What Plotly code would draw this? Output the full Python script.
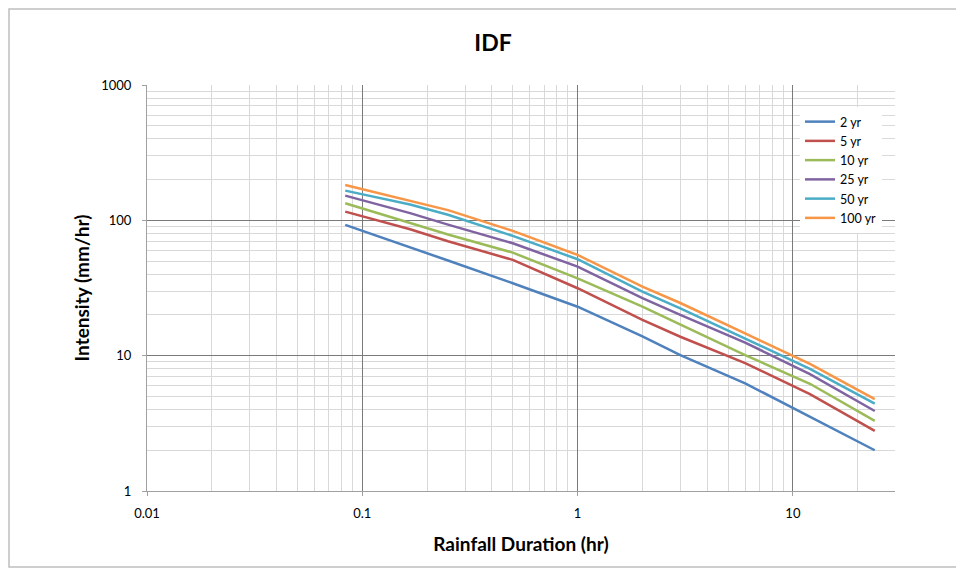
import math
import plotly.graph_objects as go

durations = [0.0833, 0.1667, 0.25, 0.5, 1, 2, 3, 6, 12, 24]
series_names = ["2 yr", "5 yr", "10 yr", "25 yr", "50 yr", "100 yr"]
i_2yr = [92.5, 63.5, 50.5, 34.3, 23.0, 13.9, 10.1, 6.25, 3.55, 2.0]
i_5yr = [115.9, 86.0, 70.0, 51.0, 31.5, 18.4, 13.8, 8.8, 5.2, 2.78]
i_10yr = [133.7, 95.0, 78.5, 57.7, 37.3, 23.0, 16.9, 10.1, 6.2, 3.3]
i_25yr = [152.3, 113.0, 93.0, 67.7, 45.5, 26.6, 20.0, 12.5, 7.3, 3.9]
i_50yr = [165.7, 131.0, 110.0, 76.7, 51.6, 29.7, 22.4, 13.4, 8.0, 4.42]
i_100yr = [182.6, 140.0, 119.0, 83.5, 55.5, 32.4, 24.5, 14.6, 8.7, 4.77]
colors = ["#4F81BD", "#C0504D", "#9BBB59", "#8064A2", "#4BACC6", "#F79646"]

x_ticks = [0.01, 0.1, 1, 10]
x_ticktext = ["0.01", "0.1", "1", "10"]
y_ticks = [1, 10, 100, 1000]
y_ticktext = ["1", "10", "100", "1000"]

FONT = "Lato"
fig = go.Figure()
for name, vals, c in zip(series_names, [i_2yr, i_5yr, i_10yr, i_25yr, i_50yr, i_100yr], colors):
    fig.add_trace(go.Scatter(x=durations, y=vals, mode="lines", name=name,
                             line=dict(color=c, width=2.5)))

OFF = 8  # page body margin
W, H = 964 - OFF, 571 - OFF
L, T = 147 - OFF, 85 - OFF
pw, ph = 895 - 147, 491 - 85
R = W - L - pw
B = H - T - ph

def sx(px):  # screen px -> paper x
    return (px - OFF - L) / pw

def sy(py):  # screen px -> paper y
    return (T + ph - (py - OFF)) / ph

fig.update_layout(
    width=W, height=H,
    margin=dict(l=L, r=R, t=T, b=B),
    paper_bgcolor="white", plot_bgcolor="white",
    font=dict(family=FONT, color="#000000"),
    title=dict(text="<b>IDF</b>", x=(493 - OFF) / W, xanchor="center",
               y=1 - (43 - OFF) / H, yanchor="middle",
               font=dict(size=23, family=FONT, color="#000")),
    showlegend=True,
    legend=dict(x=sx(800), y=sy(107), xanchor="left", yanchor="top",
                bgcolor="white", borderwidth=0, font=dict(size=12.5, family=FONT),
                tracegroupgap=0, itemwidth=30),
    xaxis=dict(type="log", range=[-2, math.log10(29.8)],
               tickvals=x_ticks, ticktext=x_ticktext,
               showgrid=True, gridcolor="#7a7a7a", gridwidth=1,
               minor=dict(showgrid=True, gridcolor="#D9D9D9", gridwidth=1, dtick="D1"),
               ticks="outside", ticklen=4, tickcolor="#a0a0a0",
               showline=True, linecolor="#a0a0a0", zeroline=False,
               tickfont=dict(size=13, family=FONT), ticklabelstandoff=6,
               title=dict(text="<b>Rainfall Duration (hr)</b>", font=dict(size=19, family=FONT), standoff=18)),
    yaxis=dict(type="log", range=[0, 3],
               tickvals=y_ticks, ticktext=y_ticktext,
               showgrid=True, gridcolor="#7a7a7a", gridwidth=1,
               minor=dict(showgrid=True, gridcolor="#D9D9D9", gridwidth=1, dtick="D1"),
               ticks="outside", ticklen=4, tickcolor="#a0a0a0",
               showline=True, linecolor="#a0a0a0", zeroline=False,
               tickfont=dict(size=13, family=FONT), ticklabelstandoff=8,
               title=dict(text="<b>Intensity (mm/hr)</b>", font=dict(size=19, family=FONT), standoff=6)),
)

fig.add_shape(type="rect", xref="paper", yref="paper",
              x0=sx(OFF + 1), x1=sx(962), y0=sy(567), y1=sy(OFF + 1),
              line=dict(color="#bfbfbf", width=1.5), layer="below")

fig.write_html("out.html")
